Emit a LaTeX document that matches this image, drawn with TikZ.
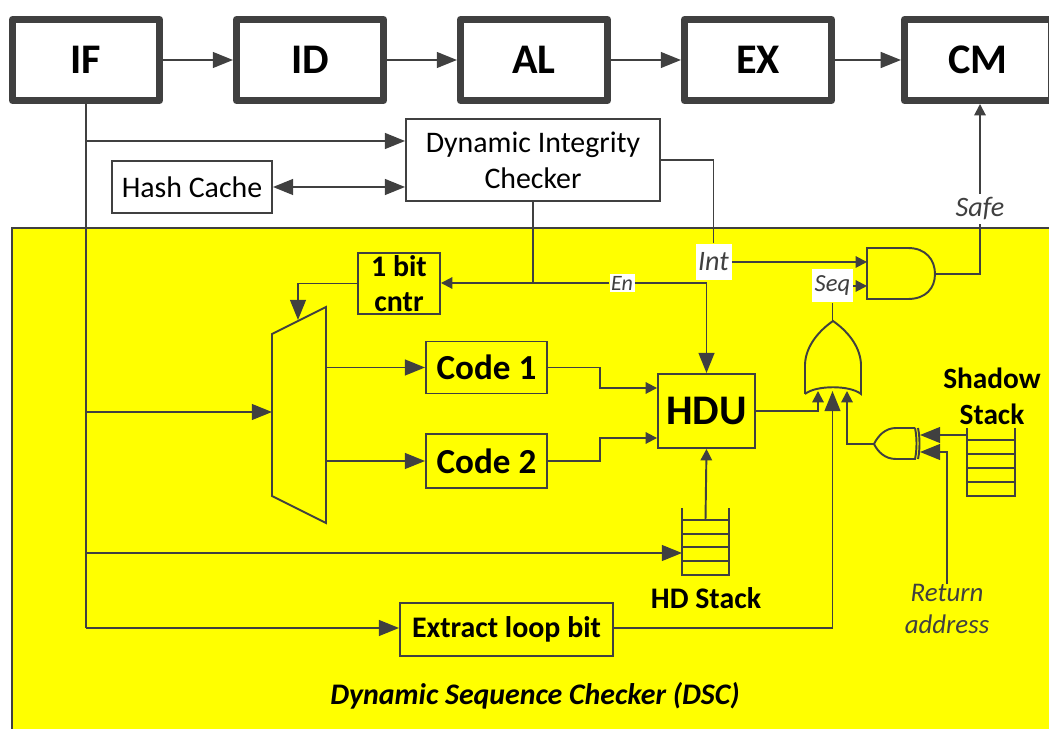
\documentclass[tikz,border=0pt]{standalone}
\usepackage{fontspec}
\setmainfont{Carlito}
\usetikzlibrary{positioning,arrows.meta}
\definecolor{wirecol}{HTML}{404040}
\definecolor{dscyellow}{HTML}{FFFF00}
\begin{document}
\begin{tikzpicture}[
        x=0.02cm, y=-0.02cm,
        node distance=1.4cm,
        stage/.style={rectangle, draw=wirecol, line width=4pt, line join=round, minimum width=2.94cm, minimum height=1.62cm, font=\fontsize{24}{28}\selectfont\bfseries},
        plainbox/.style={rectangle, draw=wirecol, line width=1.1pt, inner sep=0pt, align=center, font=\fontsize{17}{20.4}\selectfont},
        boldbox/.style={plainbox, font=\fontsize{17}{20}\selectfont\bfseries},
        tag/.style={fill=white, inner sep=0pt, text=wirecol, font=\fontsize{16}{18}\selectfont\itshape},
        wire/.style={draw=wirecol, line width=1.1pt},
        flow/.style={wire, -{Triangle[length=6.5pt, width=6.5pt]}},
        bigflow/.style={wire, -{Triangle[length=11.5pt, width=9pt]}}
        ]

        \useasboundingbox (0,0) rectangle (1049,729);
        \fill[white] (0,0) rectangle (1049,729);
        \filldraw[fill=dscyellow, draw=wirecol, line width=1.1pt] (12,228) rectangle (1060,740);

        % pipeline
        \node[stage] (if) at (86,60) {IF};
        \node[stage, right=of if] (id) {ID};
        \node[stage, right=of id] (al) {AL};
        \node[stage, right=of al] (ex) {EX};
        \node[stage, right=1.32cm of ex] (cm) {CM};
        \draw[bigflow] (if) -- (id);
        \draw[bigflow] (id) -- (al);
        \draw[bigflow] (al) -- (ex);
        \draw[bigflow] (ex) -- (cm);

        % boxes
        \node[plainbox, minimum width=5.08cm, minimum height=1.64cm] (dic) at (533,160) {Dynamic Integrity\\Checker};
        \node[plainbox, minimum width=3.2cm, minimum height=1.04cm] (hash) at (192,187) {Hash Cache};
        \node[boldbox, minimum width=1.64cm, minimum height=1.22cm] (cntr) at (399,283.5) {1 bit\\cntr};
        \node[boldbox, minimum width=2.42cm, minimum height=1.04cm, font=\fontsize{20}{24}\selectfont\bfseries] (code1) at (486.5,367.5) {Code 1};
        \node[boldbox, minimum width=2.42cm, minimum height=1.08cm, font=\fontsize{20}{24}\selectfont\bfseries] (code2) at (486.5,461) {Code 2};
        \node[boldbox, minimum width=1.94cm, minimum height=1.48cm, font=\fontsize{24}{28}\selectfont\bfseries] (hdu) at (706.5,411) {HDU};
        \node[boldbox, minimum width=4.26cm, minimum height=1.06cm] (extract) at (506.5,629.5) {Extract loop bit};

        % white tags on the wires
        \node[tag, minimum width=0.72cm, minimum height=0.74cm] (int) at (713.5,262) {Int};
        \node[tag, minimum width=0.82cm, minimum height=0.66cm, font=\fontsize{14}{16}\selectfont\itshape] (seq) at (832.5,286) {Seq};
        \node[tag, minimum width=1.16cm, minimum height=0.6cm] (safe) at (980,209) {Safe};
        \node[tag, minimum width=0.5cm, minimum height=0.36cm, font=\fontsize{12.5}{14}\selectfont\itshape] (en) at (622,283) {En};

        % mux
        \draw[wire] (272,334) -- (326,307) -- (326,523) -- (272,496) -- cycle;
        \coordinate (muxin) at (272,412);
        \coordinate (muxsel) at (298,320);
        \coordinate (muxa) at (326,367.5);
        \coordinate (muxb) at (326,461);

        % gates
        \draw[wire] (867,248) -- (908,248) .. controls (926,248) and (935,260) .. (935,274)
            .. controls (935,288) and (926,299) .. (908,299) -- (867,299) -- cycle;
        \coordinate (andout) at (935,274);
        \draw[wire] (805,394) -- (805,364) .. controls (806,345) and (820,330) .. (833,321)
            .. controls (846,330) and (860,345) .. (861,364) -- (861,394)
            .. controls (850,385) and (816,385) .. (805,394);
        \coordinate (orout) at (832.5,321);
        \draw[wire] (915,428) -- (896,428) .. controls (885,428) and (878,436) .. (874,444)
            .. controls (878,452) and (885,459) .. (896,459) -- (915,459)
            .. controls (917,450) and (917,437) .. (915,428);
        \draw[wire] (918,428) .. controls (920,437) and (920,450) .. (918,459);
        \coordinate (xorout) at (874,444);

        % stacks
        \draw[wire] (682,508) -- (682,575) -- (729,575) -- (729,508);
        \foreach \y in {520,534,547,561}
            \draw[wire] (682,\y) -- (729,\y);
        \coordinate (hdtop) at (705.5,520);
        \coordinate (hdin) at (682,553);
        \node[font=\fontsize{17}{20}\selectfont\bfseries] (hdlabel) at (706,598) {HD Stack};
        \draw[wire] (967,428) -- (967,496) -- (1015,496) -- (1015,428);
        \foreach \y in {440,454,468,482}
            \draw[wire] (967,\y) -- (1015,\y);
        \coordinate (shadowin) at (967,435);
        \node[align=center, font=\fontsize{16.7}{20.5}\selectfont\bfseries] (shadowlabel) at (992,396) {Shadow\\Stack};

        \node[inner sep=0pt, align=center, text=wirecol, font=\fontsize{15.3}{18}\selectfont\itshape] (ret) at (947,609) {Return\\address};
        \node[inner sep=0pt, font=\fontsize{17}{20}\selectfont\bfseries\itshape] (dsc) at (535,696) {Dynamic Sequence Checker (DSC)};

        % wires from IF
        \coordinate (tapdic) at (86,141);
        \coordinate (tapmux) at (86,412);
        \coordinate (tapstack) at (86,553);
        \coordinate (tapext) at (86,628);
        \draw[wire] (if.south) -- (tapext);
        \draw[bigflow] (tapdic) -- (tapdic -| dic.west);
        \draw[bigflow] (tapmux) -- (muxin);
        \draw[bigflow] (tapstack) -- (hdin);
        \draw[bigflow] (tapext) -- (tapext -| extract.west);

        % integrity checker
        \draw[wire, {Triangle[length=11.5pt, width=9pt]}-{Triangle[length=11.5pt, width=9pt]}] (hash) -- (hash -| dic.west);
        \draw[wire] (dic.east) -| (int.north);
        \draw[flow] (int.east) -- (867,262);
        \draw[wire] (dic.south) -- (dic.south |- en.west);
        \draw[flow] (en.west) -- (en.west -| cntr.east);
        \draw[bigflow] (en.east) -| (hdu.north);
        \draw[wire] (andout) -| (safe.south);
        \draw[flow] (safe.north) -- (safe.north |- cm.south);

        % sequence checker
        \draw[bigflow] (cntr.west) -| (muxsel);
        \draw[bigflow] (muxa) -- (code1.west);
        \draw[bigflow] (muxb) -- (code2.west);
        \draw[flow] (code1.east) -- (600,367.5) -- (600,388) -- (hdu.west |- 0,388);
        \draw[flow] (code2.east) -- (600,461) -- (600,438) -- (hdu.west |- 0,438);
        \draw[flow] (hdtop) -- (hdu.south);
        \draw[flow] (hdu.east) -- (818,411) -- (818,391);
        \draw[bigflow] (extract.east |- tapext) -- (832.5,628) -- (832.5,391);
        \draw[flow] (xorout) -- (847,444) -- (847,391);
        \draw[wire] (orout) -- (seq.south);
        \draw[flow] (seq.east) -- (867,286);
        \draw[bigflow] (shadowin) -- (920,435);
        \draw[bigflow] (ret.north) -- (947,452) -- (920,452);
    \end{tikzpicture}
\end{document}
